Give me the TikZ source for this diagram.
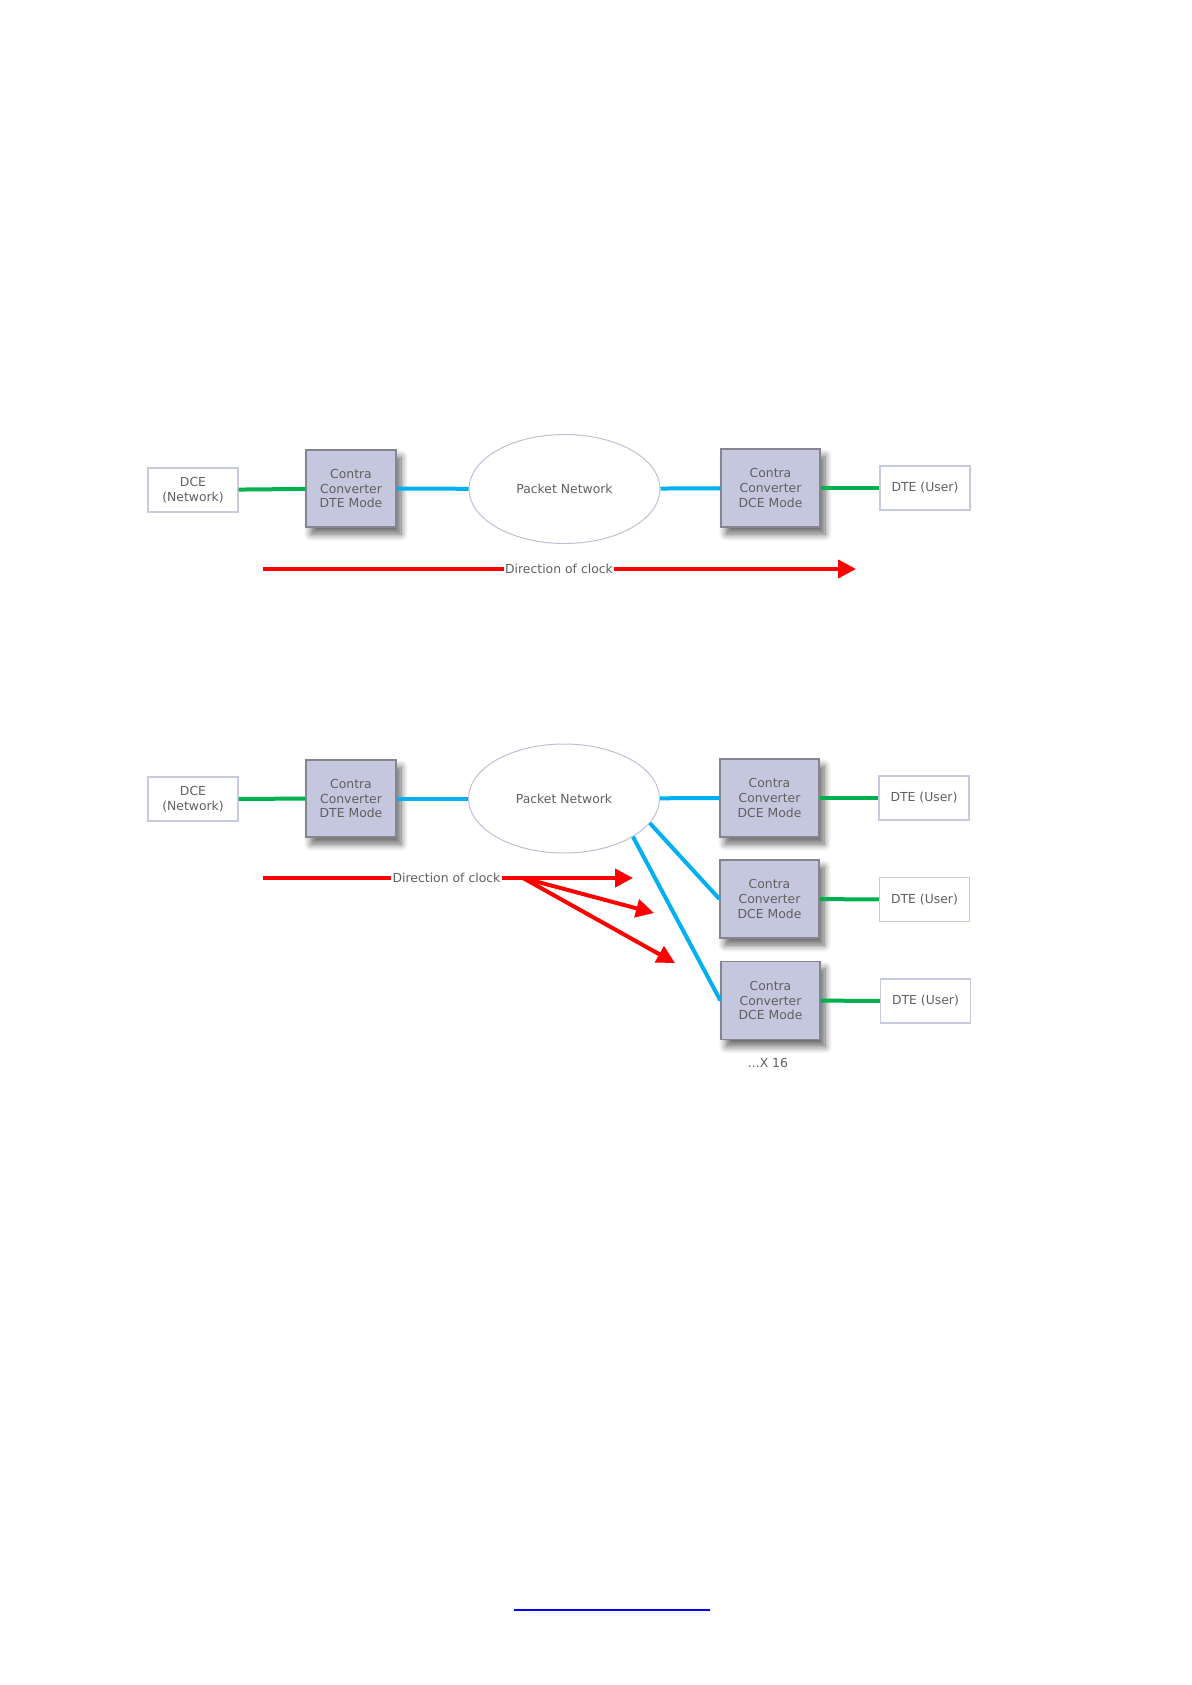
\documentclass[tikz,border=0pt]{standalone}
\usepackage{fontspec}
\setmainfont{DejaVu Sans}
\usetikzlibrary{shapes.geometric,arrows.meta,shadows.blur}
\definecolor{txtgray}{HTML}{606060}
\definecolor{convfill}{HTML}{C5C7DF}
\definecolor{convborder}{HTML}{85858F}
\definecolor{boxborder}{HTML}{C8CAE0}
\definecolor{ellborder}{HTML}{BEC0DA}
\definecolor{linkgreen}{HTML}{00B050}
\definecolor{linkblue}{HTML}{00B0F0}
\definecolor{clockred}{HTML}{FF0000}
\definecolor{hyperblue}{HTML}{0000FF}
\begin{document}
\begin{tikzpicture}[x=0.5pt,y=-0.5pt,
  every node/.style={font=\fontsize{6.2}{7.3}\selectfont, text=txtgray},
  convdte/.style={draw=convborder, fill=convfill, line width=0.6pt, align=center,
    inner sep=0pt, minimum width=45pt, minimum height=38.5pt,
    blur shadow={shadow xshift=2.5pt, shadow yshift=-3.5pt, shadow blur radius=3.5pt, shadow blur steps=8, shadow opacity=60}},
  convdce/.style={convdte, minimum width=49.5pt, minimum height=39pt},
  endbox/.style={draw=boxborder, fill=white, line width=0.6pt, align=center,
    inner sep=0pt, minimum width=45pt, minimum height=22pt},
  netell/.style={ellipse, draw=ellborder, fill=white, line width=0.5pt, inner sep=0pt,
    minimum width=95.5pt, minimum height=54.5pt},
  greenlink/.style={draw=linkgreen, line width=2pt},
  bluelink/.style={draw=linkblue, line width=2pt},
  clkline/.style={draw=clockred, line width=2pt},
  clkarrow/.style={clkline, -{Triangle[length=9pt,width=9pt]}},
  clktext/.style={inner sep=0.5pt}
]
\useasboundingbox (0,0) rectangle (1192,1685);

% ---------- top diagram ----------
\node[endbox] (dceA) at (193,490) {DCE\\(Network)};
\node[convdte] (ctA) at (351,488.5) {Contra\\Converter\\DTE Mode};
\node[netell] (netA) at (564.5,489) {Packet Network};
\node[convdce] (ccA) at (770.5,488) {Contra\\Converter\\DCE Mode};
\node[endbox] (dteA) at (925,488) {DTE (User)};

\draw[greenlink] (dceA) -- (ctA);
\draw[bluelink] (ctA) -- (netA);
\draw[bluelink] (netA) -- (ccA);
\draw[greenlink] (ccA) -- (dteA);

\node[clktext] (clkA) at (559,569) {Direction of clock};
\coordinate (sA) at (263,569);
\coordinate (eA) at (856,569);
\draw[clkline] (sA) -- (clkA.west);
\draw[clkarrow] (clkA.east) -- (eA);

% ---------- bottom diagram ----------
\node[endbox] (dceB) at (193,799) {DCE\\(Network)};
\node[convdte] (ctB) at (351,798.5) {Contra\\Converter\\DTE Mode};
\node[netell] (netB) at (564,798.5) {Packet Network};
\node[convdce] (ccB1) at (769.5,798) {Contra\\Converter\\DCE Mode};
\node[endbox] (dteB1) at (924,798) {DTE (User)};
\node[convdce] (ccB2) at (769.5,899) {Contra\\Converter\\DCE Mode};
\node[endbox] (dteB2) at (924.5,899.5) {DTE (User)};
\node[convdce] (ccB3) at (770.5,1000.5) {Contra\\Converter\\DCE Mode};
\node[endbox] (dteB3) at (925.5,1001) {DTE (User)};
\node (xsixteen) at (768,1063) {...X 16};

\draw[greenlink] (dceB) -- (ctB);
\draw[bluelink] (ctB) -- (netB);
\draw[bluelink] (netB) -- (ccB1);
\draw[bluelink] (netB.-16) -- (ccB2.west);
\draw[bluelink] (netB.-29) -- (ccB3.west);
\draw[greenlink] (ccB1) -- (dteB1);
\draw[greenlink] (ccB2) -- (dteB2);
\draw[greenlink] (ccB3) -- (dteB3);

\node[clktext] (clkB) at (446.5,878) {Direction of clock};
\coordinate (sB) at (263,878);
\coordinate (eB1) at (633,878);
\coordinate (fanB) at (523,878);
\coordinate (eB2) at (654,913);
\coordinate (eB3) at (675,963);
\draw[clkline] (sB) -- (clkB.west);
\draw[clkarrow] (clkB.east) -- (eB1);
\draw[clkarrow] (fanB) -- (eB2);
\draw[clkarrow] (fanB) -- (eB3);

% ---------- footer link underline ----------
\draw[hyperblue, line width=0.6pt] (514,1610) -- (710,1610);
\end{tikzpicture}
\end{document}
